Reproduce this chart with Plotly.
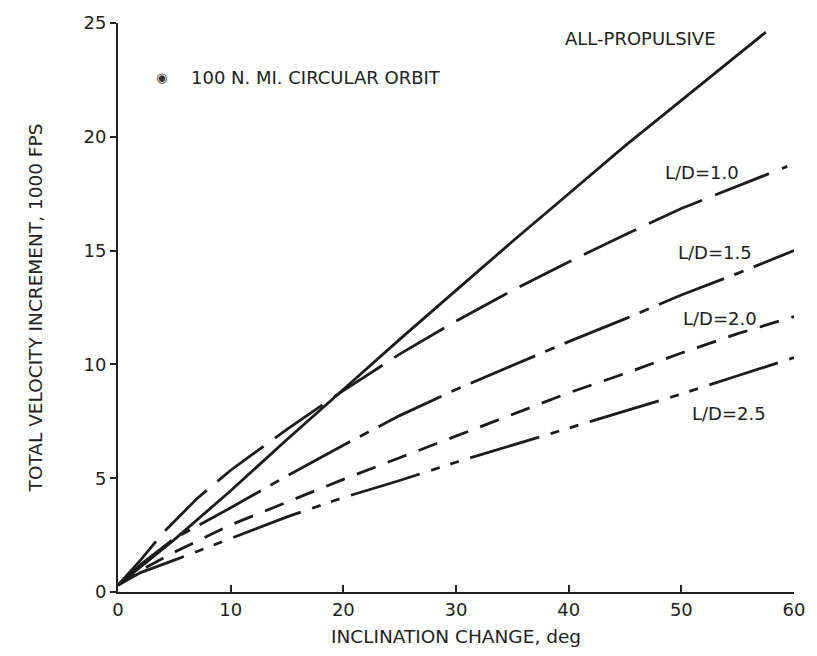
import plotly.graph_objects as go

# Data
allprop_x = [0, 5, 10, 15, 20, 25, 30, 35, 40, 45, 50, 55, 57.5]
allprop_y = [0.3, 2.3, 4.45, 6.7, 8.9, 11.1, 13.25, 15.4, 17.5, 19.6, 21.6, 23.6, 24.6]

ld10_x = [0, 2, 4, 7, 10, 15, 20, 25, 30, 35, 40, 45, 50, 55, 59.4]
ld10_y = [0.3, 1.4, 2.6, 4.1, 5.35, 7.15, 8.85, 10.45, 11.9, 13.25, 14.5, 15.7, 16.85, 17.85, 18.7]

ld15_x = [0, 2, 5, 10, 15, 20, 25, 30, 35, 40, 45, 50, 55, 60]
ld15_y = [0.3, 1.2, 2.35, 3.7, 5.1, 6.45, 7.75, 8.9, 9.95, 11.0, 12.0, 13.05, 14.0, 15.0]

ld20_x = [0, 2, 5, 10, 15, 20, 25, 30, 35, 40, 45, 50, 55, 60]
ld20_y = [0.3, 0.95, 1.75, 2.95, 3.95, 4.95, 5.9, 6.85, 7.8, 8.75, 9.6, 10.5, 11.35, 12.1]

ld25_x = [0, 2, 5, 10, 15, 20, 25, 30, 35, 40, 45, 50, 55, 60]
ld25_y = [0.3, 0.85, 1.4, 2.35, 3.3, 4.15, 4.9, 5.7, 6.45, 7.2, 7.95, 8.7, 9.5, 10.3]

x_ticks = [0, 10, 20, 30, 40, 50, 60]
y_ticks = [0, 5, 10, 15, 20, 25]

labels = ["ALL-PROPULSIVE", "L/D=1.0", "L/D=1.5", "L/D=2.0", "L/D=2.5"]
label_x = [46.4, 51.8, 53.0, 53.4, 54.2]
label_y = [24.3, 18.45, 14.9, 12.0, 7.85]

FONT = "DejaVu Sans, Liberation Sans, sans-serif"
LC = "#1c1c1c"

series = [
    (allprop_x, allprop_y, "solid"),
    (ld10_x, ld10_y, "58px,14px"),
    (ld15_x, ld15_y, "70px,11px,10px,11px"),
    (ld20_x, ld20_y, "20px,13px"),
    (ld25_x, ld25_y, "72px,12px,9px,11px,9px,12px"),
]

fig = go.Figure()
for (xs, ys, dash), name in zip(series, labels):
    fig.add_trace(go.Scatter(x=xs, y=ys, mode="lines", name=name,
                             line=dict(color=LC, width=2.8, dash=dash),
                             showlegend=False))

for t, ax, ay in zip(labels, label_x, label_y):
    fig.add_annotation(x=ax, y=ay, xref="x", yref="y", text=t, showarrow=False,
                       font=dict(family=FONT, size=18, color="#222"))

fig.add_annotation(x=3.9, y=22.6, xref="x", yref="y", text="◉", showarrow=False,
                   font=dict(family="DejaVu Sans", size=13, color="#333"))
fig.add_annotation(x=6.3, y=22.6, xref="x", yref="y", text="100 N. MI. CIRCULAR ORBIT",
                   showarrow=False, xanchor="left",
                   font=dict(family=FONT, size=18, color="#222"))

fig.update_layout(
    width=817, height=656,
    margin=dict(l=118, r=14, t=22, b=59),
    paper_bgcolor="white", plot_bgcolor="white",
    font=dict(family=FONT, color="#222"),
)
fig.update_xaxes(range=[0, 60], tickvals=x_ticks, ticktext=[str(v) for v in x_ticks],
                 showgrid=False, zeroline=False, showline=True, linecolor="#222", linewidth=2,
                 ticks="inside", ticklen=7, tickwidth=1.5, tickcolor="#222",
                 tickfont=dict(family=FONT, size=18),
                 title=dict(text="INCLINATION CHANGE, deg", font=dict(family=FONT, size=18.5), standoff=11))
fig.update_yaxes(range=[0, 25], tickvals=y_ticks, ticktext=[str(v) for v in y_ticks],
                 showgrid=False, zeroline=False, showline=True, linecolor="#222", linewidth=2,
                 ticks="outside", ticklen=6, tickwidth=1.5, tickcolor="#222",
                 tickfont=dict(family=FONT, size=18),
                 title=dict(text="TOTAL VELOCITY INCREMENT, 1000 FPS", font=dict(family=FONT, size=18.5), standoff=36))

fig.write_html("out.html")
